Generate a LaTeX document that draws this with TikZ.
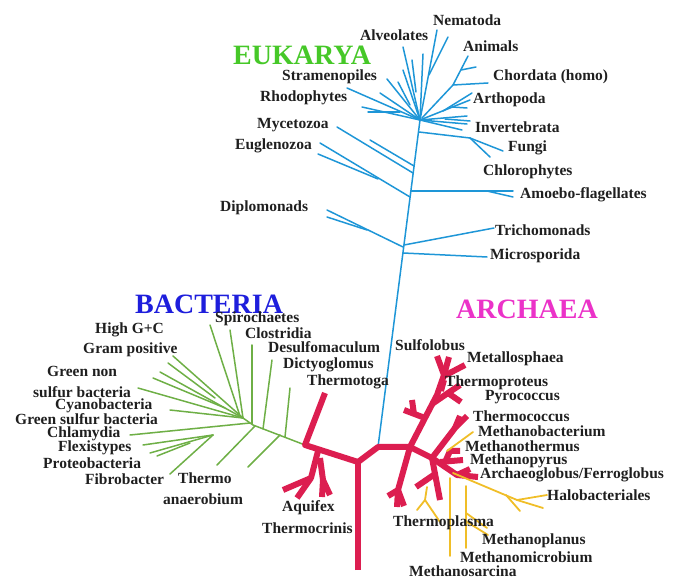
\documentclass[tikz,border=0pt]{standalone}
\usepackage{fontspec}
\setmainfont{Liberation Serif}
\definecolor{eukblue}{RGB}{30,150,215}
\definecolor{bacgreen}{RGB}{110,175,70}
\definecolor{thermred}{RGB}{220,30,80}
\definecolor{methyellow}{RGB}{240,190,40}
\definecolor{euktext}{RGB}{70,200,40}
\definecolor{bactext}{RGB}{30,30,220}
\definecolor{archtext}{RGB}{235,50,200}
\begin{document}
\begin{tikzpicture}[x=1pt,y=-1pt,
  lab/.style={font=\fontsize{15.5}{15.5}\selectfont\bfseries, inner sep=0pt, anchor=west, text=black!88},
  big/.style={font=\fontsize{28}{28}\selectfont\bfseries, inner sep=0pt, anchor=west},
  euk/.style={draw=eukblue, line width=1.5pt, line cap=round, line join=round},
  bac/.style={draw=bacgreen, line width=1.5pt, line cap=round, line join=round},
  thr/.style={draw=thermred, line width=6pt, line cap=butt, line join=round},
  met/.style={draw=methyellow, line width=1.8pt, line cap=round, line join=round}]
\useasboundingbox (0,0) rectangle (673,580);

% ---------------- Eukarya (blue) ----------------
\draw[euk] (378,447) -- (420,120);
\draw[euk] (403,253) -- (487,257);
\draw[euk] (404,245) -- (494,228);
\draw[euk] (403,247) -- (327,210);
\draw[euk] (367,230) -- (327,217);
\draw[euk] (411,191) -- (513,191);
\draw[euk] (487,191) -- (513,197);
\draw[euk] (410,197) -- (320,143);
\draw[euk] (378,179) -- (318,154);
\draw[euk] (413,173) -- (337,127);
\draw[euk] (414,166) -- (370,140);
\draw[euk] (419,132) -- (470,138) -- (503,151);
\draw[euk] (470,138) -- (490,157);
\draw[euk] (420,120) -- (467,116);
\draw[euk] (420,120) -- (467,124);
\draw[euk] (420,120) -- (462,130);
\draw[euk] (445,119) -- (470,121);
\draw[euk] (420,120) -- (470,100);
\draw[euk] (443,111) -- (472,93);
\draw[euk] (452,107) -- (467,108);
\draw[euk] (422,118) -- (453,85) -- (468,56);
\draw[euk] (453,85) -- (488,83);
\draw[euk] (461,70) -- (476,67);
\draw[euk] (420,120) -- (437,30);
\draw[euk] (429,75) -- (448,37);
\draw[euk] (420,120) -- (403,47);
\draw[euk] (420,120) -- (423,54);
\draw[euk] (416,92) -- (412,60);
\draw[euk] (420,120) -- (403,70);
\draw[euk] (420,120) -- (387,79);
\draw[euk] (410,105) -- (398,82);
\draw[euk] (420,120) -- (380,93);
\draw[euk] (420,120) -- (347,88);
\draw[euk] (420,120) -- (362,107);
\draw[euk] (400,112) -- (368,112);

% ---------------- Bacteria (green) ----------------
\draw[bac] (305,445) -- (253,425) -- (243,418);
\draw[bac] (285,437) -- (290,388);
\draw[bac] (263,429) -- (272,360);
\draw[bac] (252,424) -- (252,345);
\draw[bac] (243,418) -- (230,330);
\draw[bac] (240,416) -- (210,325);
\draw[bac] (280,435) -- (248,467);
\draw[bac] (255,426) -- (217,465);
\draw[bac] (243,418) -- (173,356);
\draw[bac] (215,398) -- (168,363);
\draw[bac] (243,418) -- (160,372);
\draw[bac] (225,408) -- (153,378);
\draw[bac] (243,418) -- (138,388);
\draw[bac] (243,418) -- (170,410);
\draw[bac] (250,423) -- (130,435);
\draw[bac] (213,435) -- (143,445);
\draw[bac] (213,435) -- (150,453);
\draw[bac] (190,443) -- (157,456);
\draw[bac] (213,435) -- (170,474);

% ---------------- Thermophiles (red) ----------------
\draw[thr] (358,570) -- (358,462);
\draw[thr] (358,462) -- (305,445) -- (325,393);
\draw[thr] (358,462) -- (378,447) -- (410,447);
\draw[thr] (318,451) -- (311,478) -- (283,490);
\draw[thr] (311,478) -- (297,498);
\draw[thr] (320,458) -- (323,480) -- (322,497);
\draw[thr] (323,480) -- (330,495);
% archaea crenarchaeota
\draw[thr] (410,447) -- (425,418) -- (437,395) -- (444,375) -- (437,356);
\draw[thr] (444,375) -- (449,357);
\draw[thr] (444,376) -- (465,365);
\draw[thr] (425,418) -- (404,410);
\draw[thr] (414,414) -- (412,400);
\draw[thr] (432,404) -- (448,393) -- (460,385);
\draw[thr] (448,393) -- (461,402);
\draw[thr] (441,391) -- (444,380);
% euryarchaeota
\draw[thr] (410,447) -- (432,458) -- (457,475) -- (478,477);
\draw[thr] (457,475) -- (470,469);
\draw[thr] (432,458) -- (455,428) -- (467,416);
\draw[thr] (455,428) -- (460,416);
\draw[thr] (440,462) -- (463,460);
\draw[thr] (446,460) -- (450,451) -- (460,451);
\draw[thr] (432,458) -- (440,500);
\draw[thr] (435,474) -- (416,487);
\draw[thr] (410,447) -- (398,490) -- (388,496);
\draw[thr] (398,490) -- (397,507);
\draw[thr] (398,490) -- (404,506);

% ---------------- Methanogens / halophiles (yellow) ----------------
\draw[met] (447,451) -- (473,432);
\draw[met] (450,478) -- (450,556);
\draw[met] (453,473) -- (517,500) -- (547,495);
\draw[met] (517,500) -- (543,508);
\draw[met] (506,495) -- (520,511);
\draw[met] (466,486) -- (466,548);
\draw[met] (466,513) -- (487,528);
\draw[met] (467,522) -- (488,535);
\draw[met] (427,487) -- (425,500) -- (417,510);
\draw[met] (425,500) -- (440,522);

% ---------------- Domain titles ----------------
\node[big, text=euktext] (eukarya) at (233,55) {EUKARYA};
\node[big, text=bactext] (bacteria) at (135,304) {BACTERIA};
\node[big, text=archtext] (archaea) at (456,309) {ARCHAEA};

% ---------------- Eukarya labels ----------------
\node[lab] (nematoda) at (433,20) {Nematoda};
\node[lab] (alveolates) at (360,35) {Alveolates};
\node[lab] (animals) at (463,46) {Animals};
\node[lab] (stramenopiles) at (282,77) {Stramenopiles};
\node[lab] (chordata) at (493,77) {Chordata (homo)};
\node[lab] (rhodophytes) at (260,98) {Rhodophytes};
\node[lab] (arthopoda) at (473,100) {Arthopoda};
\node[lab] (mycetozoa) at (257,125) {Mycetozoa};
\node[lab] (invertebrata) at (475,127) {Invertebrata};
\node[lab] (euglenozoa) at (235,146) {Euglenozoa};
\node[lab] (fungi) at (508,148) {Fungi};
\node[lab] (chlorophytes) at (483,172) {Chlorophytes};
\node[lab] (amoebo) at (520,195) {Amoebo-flagellates};
\node[lab] (diplomonads) at (220,208) {Diplomonads};
\node[lab] (trichomonads) at (495,230) {Trichomonads};
\node[lab] (microsporida) at (490,256) {Microsporida};

% ---------------- Bacteria labels ----------------
\node[lab] (highgc) at (95,330) {High G+C};
\node[lab] (grampos) at (83,350) {Gram positive};
\node[lab] (greennon) at (47,371) {Green non};
\node[lab] (sulfurbac) at (33,392) {sulfur bacteria};
\node[lab] (cyano) at (55,406) {Cyanobacteria};
\node[lab] (greensulfur) at (15,419) {Green sulfur bacteria};
\node[lab] (chlamydia) at (47,434) {Chlamydia};
\node[lab] (flexistypes) at (58,448) {Flexistypes};
\node[lab] (proteo) at (43,463) {Proteobacteria};
\node[lab] (fibro) at (85,479) {Fibrobacter};
\node[lab] (thermo) at (178,478) {Thermo};
\node[lab] (anaerobium) at (163,499) {anaerobium};
\node[lab] (spiro) at (215,319) {Spirochaetes};
\node[lab] (clostridia) at (245,333) {Clostridia};
\node[lab] (desulfo) at (268,347) {Desulfomaculum};
\node[lab] (dictyo) at (283,365) {Dictyoglomus};
\node[lab] (thermotoga) at (307,382) {Thermotoga};
\node[lab] (aquifex) at (282,508) {Aquifex};
\node[lab] (thermocrinis) at (262,528) {Thermocrinis};

% ---------------- Archaea labels ----------------
\node[lab] (sulfolobus) at (395,345) {Sulfolobus};
\node[lab] (metallo) at (467,359) {Metallosphaea};
\node[lab] (thermoproteus) at (445,383) {Thermoproteus};
\node[lab] (pyrococcus) at (485,397) {Pyrococcus};
\node[lab] (thermococcus) at (473,416) {Thermococcus};
\node[lab] (methanobact) at (478,431) {Methanobacterium};
\node[lab] (methanotherm) at (465,446) {Methanothermus};
\node[lab] (methanopyrus) at (470,461) {Methanopyrus};
\node[lab] (archaeo) at (480,475) {Archaeoglobus/Ferroglobus};
\node[lab] (halo) at (547,495) {Halobacteriales};
\node[lab] (thermoplasma) at (393,523) {Thermoplasma};
\node[lab] (methanoplanus) at (482,541) {Methanoplanus};
\node[lab] (methanomicro) at (460,557) {Methanomicrobium};
\node[lab] (methanosarcina) at (409,571) {Methanosarcina};
\end{tikzpicture}
\end{document}
